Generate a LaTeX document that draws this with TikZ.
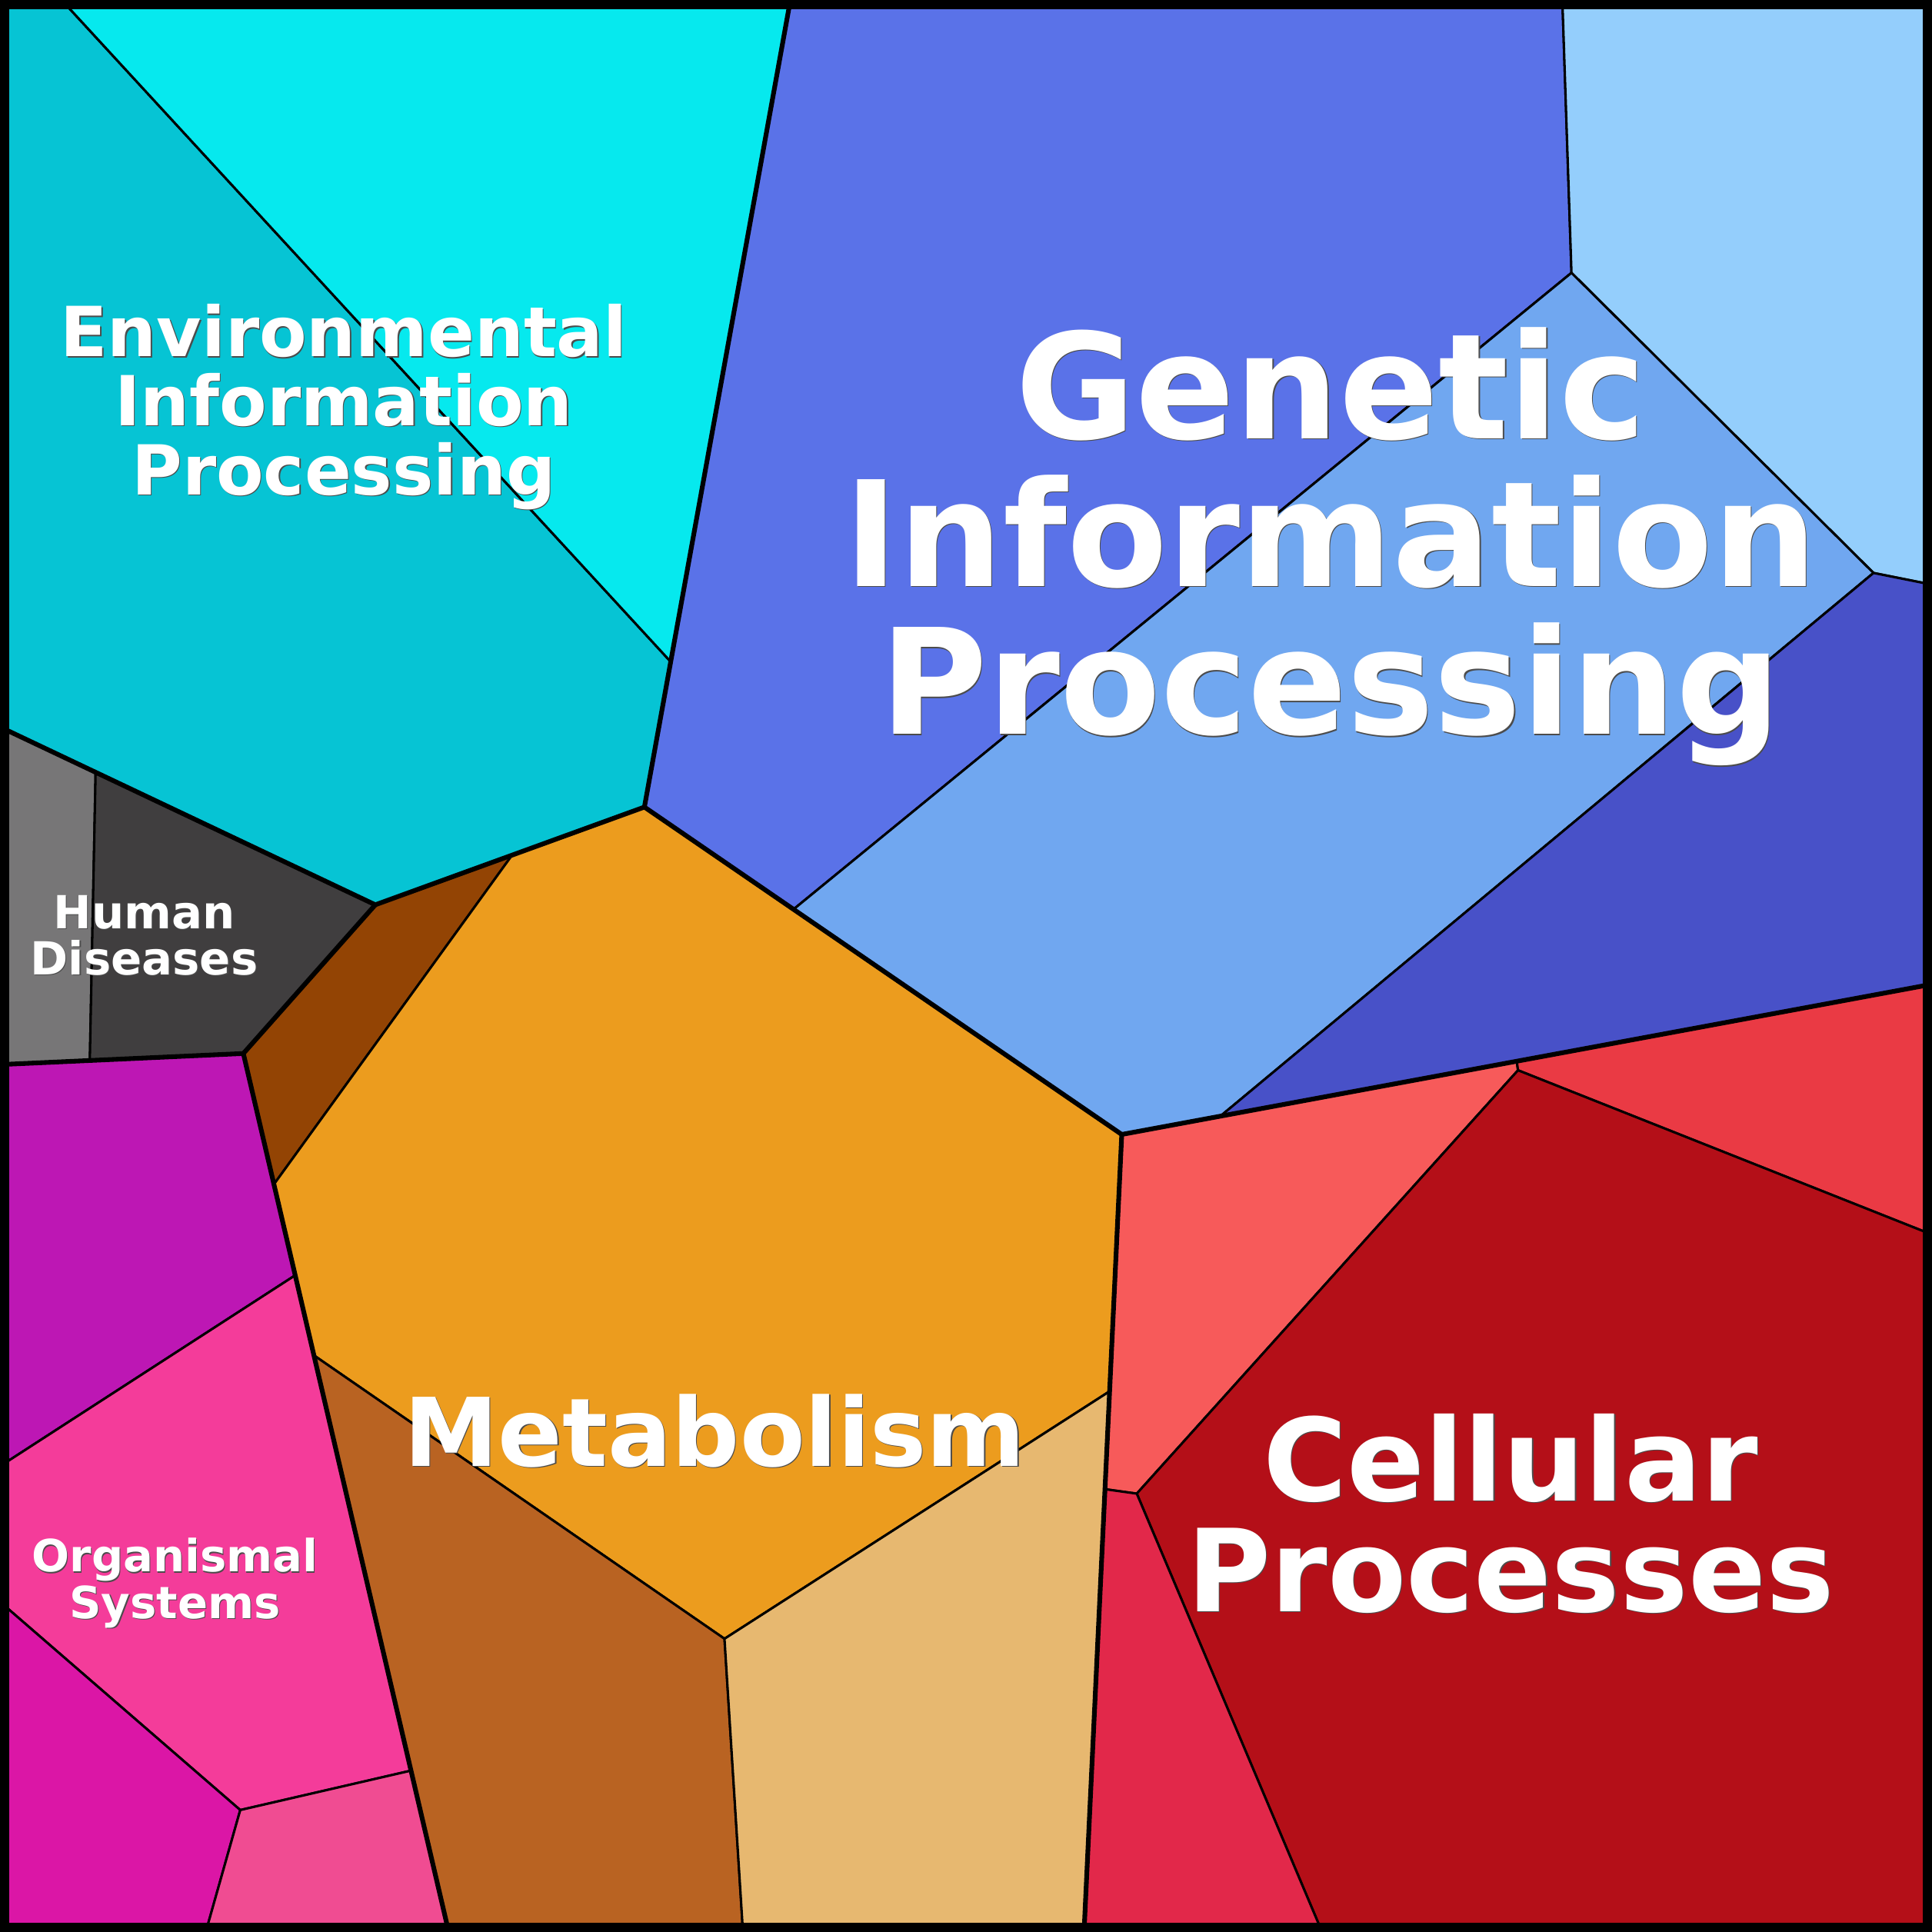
\documentclass[tikz,border=0pt]{standalone}
\usepackage{fontspec}
\setmainfont{DejaVu Sans}

\definecolor{envdark}{HTML}{06C4D4}
\definecolor{envlight}{HTML}{06E9EE}
\definecolor{humlight}{HTML}{777677}
\definecolor{humdark}{HTML}{403E3F}
\definecolor{metbrown}{HTML}{934404}
\definecolor{metorange}{HTML}{EC9C1E}
\definecolor{metrust}{HTML}{B96322}
\definecolor{mettan}{HTML}{E7B870}
\definecolor{genblue}{HTML}{5A72E8}
\definecolor{gensky}{HTML}{94CEFC}
\definecolor{genmid}{HTML}{70A7F0}
\definecolor{genindigo}{HTML}{4851C8}
\definecolor{celsalmon}{HTML}{F75A5A}
\definecolor{celred}{HTML}{EA3A44}
\definecolor{celdark}{HTML}{B40F18}
\definecolor{celcrimson}{HTML}{E2284A}
\definecolor{orgpurple}{HTML}{BD17B4}
\definecolor{orgpink}{HTML}{F43C9A}
\definecolor{orgmagenta}{HTML}{DB16A6}
\definecolor{orgrose}{HTML}{F04C92}

\begin{document}
\begin{tikzpicture}[
  x=0.1mm, y=-0.1mm,
  cell/.style={draw, line width=0.19mm, line join=round},
  group/.style={draw, line width=0.38mm, line join=round},
  namebox/.style n args={2}{text=white, align=center, inner sep=0pt, font=\bfseries\fontsize{#1}{#2}\selectfont},
  nameshadow/.style n args={2}{text=black!70, align=center, inner sep=0pt, xshift=0.08mm, yshift=-0.08mm, font=\bfseries\fontsize{#1}{#2}\selectfont}
]
\useasboundingbox (0,0) rectangle (1568,1568);

% Corners and junctions of the top level cells
\coordinate (tl) at (0,0);
\coordinate (tr) at (1568,0);
\coordinate (br) at (1568,1568);
\coordinate (bl) at (0,1568);
\coordinate (envtop) at (641.5,0);
\coordinate (envgen) at (523,655);
\coordinate (envhum) at (304.6,734.3);
\coordinate (humleft) at (0,590);
\coordinate (hummet) at (197.5,855);
\coordinate (humorg) at (0,864);
\coordinate (metgencel) at (910.4,920.7);
\coordinate (gencel) at (1568,798.8);
\coordinate (metbot) at (879.8,1568);
\coordinate (metorg) at (364.2,1568);

% Junctions inside the cells
\coordinate (envA) at (50,0);
\coordinate (envB) at (544.3,537);
\coordinate (humA) at (77.6,626.8);
\coordinate (humB) at (72.9,860.7);
\coordinate (metA) at (415.6,694);
\coordinate (metB) at (222.3,961.2);
\coordinate (metD) at (900.5,1129.2);
\coordinate (metE) at (588,1330);
\coordinate (metF) at (254.8,1100);
\coordinate (metG) at (603,1568);
\coordinate (genA) at (644,738);
\coordinate (genB) at (1268,0);
\coordinate (genC) at (1275.4,221.4);
\coordinate (genD) at (1520.5,465);
\coordinate (genE) at (1568,474.5);
\coordinate (genF) at (990.4,905.9);
\coordinate (celA) at (1231,861.3);
\coordinate (celB) at (1232,868.6);
\coordinate (celC) at (1568,1002);
\coordinate (celD) at (922.6,1212.2);
\coordinate (celE) at (896.8,1208.6);
\coordinate (celF) at (1073,1568);
\coordinate (orgA) at (239.6,1035);
\coordinate (orgB) at (0,1190);
\coordinate (orgC) at (333.6,1437);
\coordinate (orgD) at (195,1469);
\coordinate (orgE) at (0,1300);
\coordinate (orgF) at (167,1568);

% Environmental Information Processing
\filldraw[cell, fill=envdark] (tl) -- (envA) -- (envB) -- (envgen) -- (envhum) -- (humleft) -- cycle;
\filldraw[cell, fill=envlight] (envA) -- (envtop) -- (envB) -- cycle;

% Human Diseases
\filldraw[cell, fill=humlight] (humleft) -- (humA) -- (humB) -- (humorg) -- cycle;
\filldraw[cell, fill=humdark] (humA) -- (envhum) -- (hummet) -- (humB) -- cycle;

% Metabolism
\filldraw[cell, fill=metbrown] (envhum) -- (metA) -- (metB) -- (hummet) -- cycle;
\filldraw[cell, fill=metorange] (metA) -- (envgen) -- (genA) -- (metgencel) -- (metD) -- (metE) -- (metF) -- (metB) -- cycle;
\filldraw[cell, fill=metrust] (metF) -- (metE) -- (metG) -- (metorg) -- cycle;
\filldraw[cell, fill=mettan] (metE) -- (metD) -- (metbot) -- (metG) -- cycle;

% Genetic Information Processing
\filldraw[cell, fill=genblue] (envtop) -- (genB) -- (genC) -- (genA) -- (envgen) -- cycle;
\filldraw[cell, fill=gensky] (genB) -- (tr) -- (genE) -- (genD) -- (genC) -- cycle;
\filldraw[cell, fill=genmid] (genC) -- (genD) -- (genF) -- (metgencel) -- (genA) -- cycle;
\filldraw[cell, fill=genindigo] (genD) -- (genE) -- (gencel) -- (genF) -- cycle;

% Cellular Processes
\filldraw[cell, fill=celsalmon] (metgencel) -- (celA) -- (celB) -- (celD) -- (celE) -- cycle;
\filldraw[cell, fill=celred] (celA) -- (gencel) -- (celC) -- (celB) -- cycle;
\filldraw[cell, fill=celdark] (celB) -- (celC) -- (br) -- (celF) -- (celD) -- cycle;
\filldraw[cell, fill=celcrimson] (celE) -- (celD) -- (celF) -- (metbot) -- cycle;

% Organismal Systems
\filldraw[cell, fill=orgpurple] (humorg) -- (hummet) -- (orgA) -- (orgB) -- cycle;
\filldraw[cell, fill=orgpink] (orgA) -- (orgC) -- (orgD) -- (orgE) -- (orgB) -- cycle;
\filldraw[cell, fill=orgmagenta] (orgE) -- (orgD) -- (orgF) -- (bl) -- cycle;
\filldraw[cell, fill=orgrose] (orgD) -- (orgC) -- (metorg) -- (orgF) -- cycle;

% Borders between the top level cells
\draw[group] (envtop) -- (envgen) -- (metgencel) -- (gencel);
\draw[group] (humleft) -- (envhum) -- (envgen);
\draw[group] (envhum) -- (hummet) -- (humorg);
\draw[group] (hummet) -- (metorg);
\draw[group] (metgencel) -- (metbot);
\draw[line width=0.75mm] (3.75,3.75) rectangle (1564.25,1564.25);

% Names
\node[nameshadow={5.6mm}{5.6mm}] (env-s) at (279,330.3) {Environmental\\Information\\Processing};
\node[namebox={5.6mm}{5.6mm}] (env) at (279,330.3) {Environmental\\Information\\Processing};
\node[nameshadow={11.9mm}{12mm}] (gen-s) at (1080,443.6) {Genetic\\Information\\Processing};
\node[namebox={11.9mm}{12mm}] (gen) at (1080,443.6) {Genetic\\Information\\Processing};
\node[nameshadow={3.7mm}{3.75mm}] (hum-s) at (117,759.3) {Human\\Diseases};
\node[namebox={3.7mm}{3.75mm}] (hum) at (117,759.3) {Human\\Diseases};
\node[nameshadow={7.7mm}{7.7mm}, anchor=base] (met-s) at (580,1190) {Metabolism};
\node[namebox={7.7mm}{7.7mm}, anchor=base] (met) at (580,1190) {Metabolism};
\node[nameshadow={9.3mm}{9mm}] (cel-s) at (1226,1228.2) {Cellular\\Processes};
\node[namebox={9.3mm}{9mm}] (cel) at (1226,1228.2) {Cellular\\Processes};
\node[nameshadow={3.6mm}{3.4mm}] (org-s) at (142,1284.9) {Organismal\\Systems};
\node[namebox={3.6mm}{3.4mm}] (org) at (142,1284.9) {Organismal\\Systems};
\end{tikzpicture}
\end{document}
